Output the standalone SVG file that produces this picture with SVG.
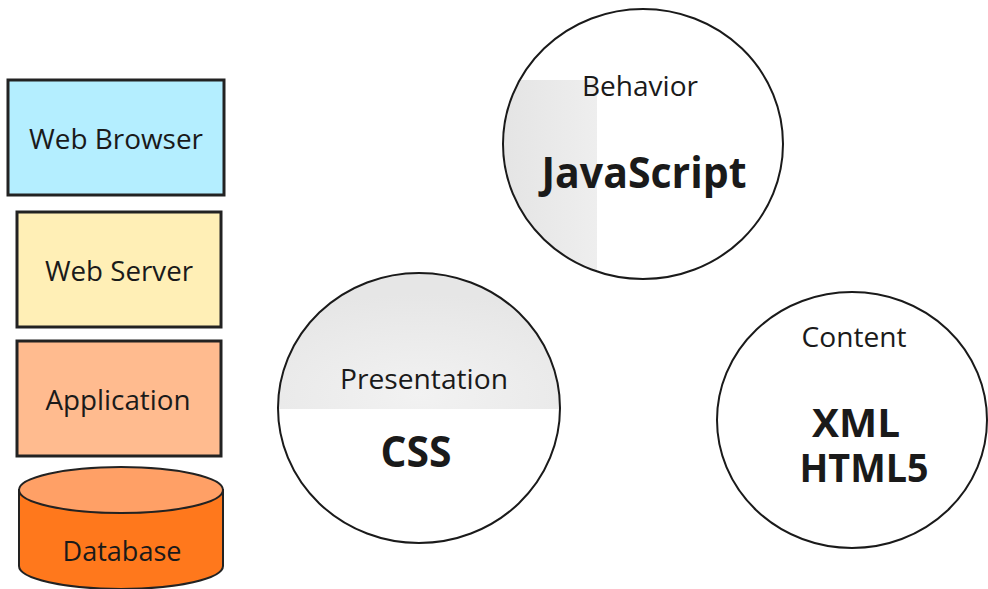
<svg xmlns="http://www.w3.org/2000/svg" width="988" height="589" viewBox="0 0 988 589">
<defs>
<style>
.box{stroke:#222;stroke-width:3}
.ring{fill:none;stroke:#1a1a1a;stroke-width:2}
.lbl{font-family:"Open Sans","DejaVu Sans",sans-serif;font-size:27px;fill:#1a1a1a;text-anchor:middle}
.big{font-family:"Open Sans","DejaVu Sans",sans-serif;font-size:43px;font-weight:bold;fill:#1a1a1a;text-anchor:middle}
.mid{font-family:"Open Sans","DejaVu Sans",sans-serif;font-size:40px;font-weight:bold;fill:#1a1a1a;text-anchor:middle}
</style>
<clipPath id="cJs"><ellipse cx="643" cy="144" rx="140" ry="135"/></clipPath>
<clipPath id="cCss"><ellipse cx="419" cy="408" rx="141" ry="135"/></clipPath>
<linearGradient id="gJs" x1="0" y1="0" x2="1" y2="0">
<stop offset="0" stop-color="#e4e4e4"/><stop offset="1" stop-color="#eeeeee"/>
</linearGradient>
<radialGradient id="gCss" cx="0.5" cy="0.9" r="0.7">
<stop offset="0" stop-color="#f2f2f2"/><stop offset="1" stop-color="#e6e6e6"/>
</radialGradient>
</defs>
<rect width="988" height="589" fill="#ffffff"/>
<g id="web-browser">
<rect class="box" x="8" y="80" width="216" height="115" fill="#b4eeff"/>
<text class="lbl" x="116" y="149" textLength="174" lengthAdjust="spacingAndGlyphs">Web Browser</text>
</g>
<g id="web-server">
<rect class="box" x="17" y="212" width="204" height="115" fill="#ffefb6"/>
<text class="lbl" x="119" y="281" textLength="148" lengthAdjust="spacingAndGlyphs">Web Server</text>
</g>
<g id="application">
<rect class="box" x="17" y="341" width="204" height="115" fill="#ffbb8f"/>
<text class="lbl" x="118" y="410" textLength="145" lengthAdjust="spacingAndGlyphs">Application</text>
</g>
<g id="database">
<path d="M19 490 L19 566 A102 23 0 0 0 223 566 L223 490 Z" fill="#ff781c" stroke="#222" stroke-width="2"/>
<ellipse cx="121" cy="490" rx="102" ry="23" fill="#ffa066" stroke="#222" stroke-width="2"/>
<text class="lbl" x="122" y="561" textLength="119" lengthAdjust="spacingAndGlyphs">Database</text>
</g>
<g id="behavior">
<ellipse cx="643" cy="144" rx="140" ry="135" fill="#ffffff"/>
<rect x="500" y="80" width="97" height="210" fill="url(#gJs)" clip-path="url(#cJs)"/>
<ellipse class="ring" cx="643" cy="144" rx="140" ry="135"/>
<text class="lbl" x="640" y="96" textLength="116" lengthAdjust="spacingAndGlyphs">Behavior</text>
<text class="big" x="644" y="188" textLength="205" lengthAdjust="spacingAndGlyphs">JavaScript</text>
</g>
<g id="presentation">
<ellipse cx="419" cy="408" rx="141" ry="135" fill="#ffffff"/>
<rect x="270" y="265" width="300" height="144" fill="url(#gCss)" clip-path="url(#cCss)"/>
<ellipse class="ring" cx="419" cy="408" rx="141" ry="135"/>
<text class="lbl" x="424" y="389" textLength="168" lengthAdjust="spacingAndGlyphs">Presentation</text>
<text class="big" x="416" y="467" textLength="71" lengthAdjust="spacingAndGlyphs">CSS</text>
</g>
<g id="content">
<ellipse class="ring" cx="852" cy="420" rx="135" ry="128" fill="#ffffff"/>
<text class="lbl" x="854" y="347" textLength="105" lengthAdjust="spacingAndGlyphs">Content</text>
<text class="mid" x="856" y="437" textLength="88" lengthAdjust="spacingAndGlyphs">XML</text>
<text class="mid" x="864" y="482" textLength="129" lengthAdjust="spacingAndGlyphs">HTML5</text>
</g>
<g id="connectors"></g>
</svg>
